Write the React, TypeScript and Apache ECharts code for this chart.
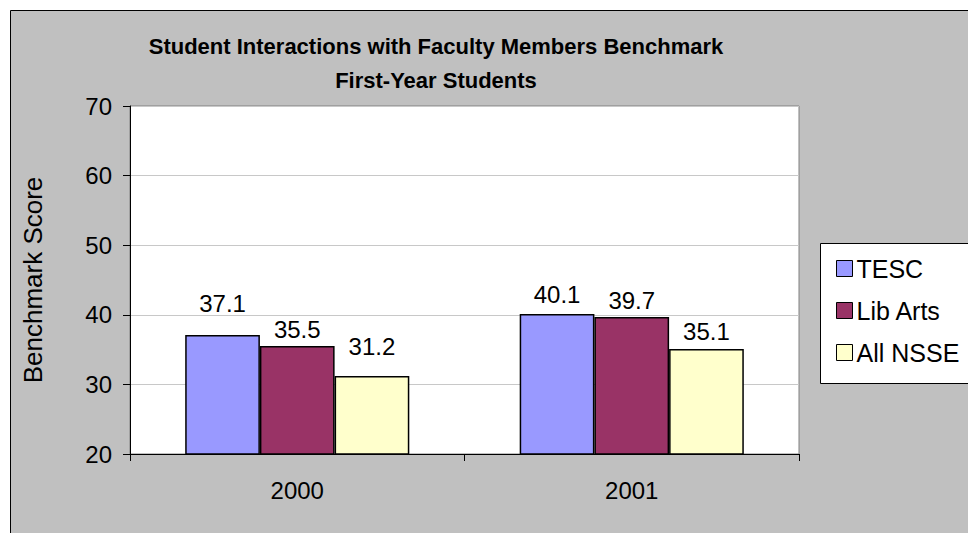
import React, { useEffect, useRef } from 'react';
import * as echarts from 'echarts';

const titleLines = ['Student Interactions with Faculty Members Benchmark', 'First-Year Students'];
const categories = ['2000', '2001'];
const seriesNames = ['TESC', 'Lib Arts', 'All NSSE'];
const tescValues = [37.1, 40.1];
const libArtsValues = [35.5, 39.7];
const allNsseValues = [31.2, 35.1];
const yAxisName = 'Benchmark Score';
const yMin = 20;
const yMax = 70;
const yInterval = 10;

const colors = ['#9999ff', '#993366', '#ffffcc'];
// label gap above each bar (style only)
const labelGaps = [
  [19, 8],
  [5, 4],
  [18, 5],
];

const FONT = 'Liberation Sans, Arial, sans-serif';

export default function App() {
  const ref = useRef<HTMLDivElement>(null);

  useEffect(() => {
    if (!ref.current) return;
    const chart = echarts.init(ref.current, null, { renderer: 'svg' });
    const valueSets = [tescValues, libArtsValues, allNsseValues];
    chart.setOption({
      animation: false,
      textStyle: { fontFamily: FONT },
      graphic: [
        {
          type: 'rect',
          z: -10,
          silent: true,
          shape: { x: 10.5, y: 10.5, width: 1000, height: 600 },
          style: { fill: '#c0c0c0', stroke: '#000', lineWidth: 1 },
        },
        {
          type: 'rect',
          z: 1,
          silent: true,
          shape: { x: 820.5, y: 243.5, width: 200, height: 140 },
          style: { fill: '#ffffff', stroke: '#000', lineWidth: 1 },
        },
      ],
      title: {
        text: titleLines.join('\n'),
        left: 431,
        textAlign: 'center',
        top: 24,
        textStyle: {
          fontFamily: FONT,
          fontSize: 22,
          fontWeight: 'bold',
          color: '#000',
          lineHeight: 34,
        },
      },
      legend: {
        orient: 'vertical',
        left: 831,
        top: 251,
        itemWidth: 16,
        itemHeight: 16,
        itemGap: 17,
        icon: 'rect',
        itemStyle: { borderColor: '#000', borderWidth: 1 },
        textStyle: { fontFamily: FONT, fontSize: 25, color: '#000', padding: [0, 0, 0, -1] },
        data: seriesNames,
      },
      grid: {
        left: 130,
        top: 106,
        right: 169,
        bottom: 79,
        show: true,
        backgroundColor: '#ffffff',
        borderColor: '#808080',
        borderWidth: 1,
      },
      xAxis: {
        type: 'category',
        data: categories,
        axisLine: { show: true, lineStyle: { color: '#000', width: 1 } },
        axisTick: { show: true, alignWithLabel: false, length: 7, lineStyle: { color: '#000' } },
        axisLabel: { fontFamily: FONT, fontSize: 24, color: '#000', margin: 24 },
      },
      yAxis: {
        type: 'value',
        min: yMin,
        max: yMax,
        interval: yInterval,
        name: yAxisName,
        nameLocation: 'middle',
        nameRotate: 90,
        nameGap: 84,
        nameTextStyle: { fontFamily: FONT, fontSize: 26, color: '#000' },
        axisLine: { show: true, lineStyle: { color: '#000', width: 1 } },
        axisTick: { show: true, length: 7, lineStyle: { color: '#000' } },
        axisLabel: { fontFamily: FONT, fontSize: 24, color: '#000', margin: 18 },
        splitLine: { show: true, lineStyle: { color: '#c8c8c8', width: 1 } },
      },
      series: seriesNames.map((name, si) => ({
        name,
        type: 'bar',
        barGap: '0%',
        barCategoryGap: '33%',
        itemStyle: { color: colors[si], borderColor: '#000', borderWidth: 1.5 },
        label: {
          show: true,
          position: 'top',
          fontFamily: FONT,
          fontSize: 24,
          color: '#000',
        },
        data: valueSets[si].map((v, i) => ({
          value: v,
          label: { distance: labelGaps[si][i] },
        })),
      })),
    });
    return () => chart.dispose();
  }, []);

  return (
    <div
      ref={ref}
      style={{ position: 'fixed', left: 0, top: 0, width: 968, height: 533, background: '#fff' }}
    />
  );
}
